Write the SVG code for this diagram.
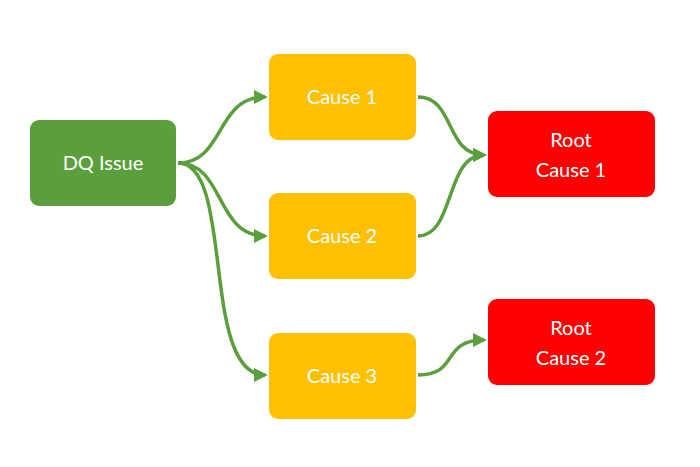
<svg xmlns="http://www.w3.org/2000/svg" width="700" height="467" viewBox="0 0 700 467">
<defs>
<marker id="ah" viewBox="0 0 10 10" refX="8" refY="5" markerWidth="4" markerHeight="4" orient="auto"><path d="M0,0 L10,5 L0,10 z" fill="#5B9F3D"/></marker>
<style>
text{font-family:Lato,"Liberation Sans",sans-serif;font-size:20px;fill:#fff;text-anchor:middle}
.c{fill:none;stroke:#5B9F3D;stroke-width:3.5;marker-end:url(#ah)}
</style>
</defs>
<rect width="700" height="467" fill="#fff"/>
<g id="connectors">
<path class="c" d="M178,163 C225,163 215,97 265,97"/>
<path class="c" d="M178,163 C225,163 215,236 265,236"/>
<path class="c" d="M178,163 C235,163 200,375 265,375"/>
<path class="c" d="M418,97 C455,97 445,155 484,155"/>
<path class="c" d="M418,236 C455,236 445,155 484,155"/>
<path class="c" d="M418,375 C460,375 440,340 484,340"/>
</g>
<g id="dq"><rect x="30" y="120" width="146" height="86" rx="9" fill="#5B9F3D"/><text x="103" y="170">DQ Issue</text></g>
<g id="cause1"><rect x="269" y="54" width="147" height="86" rx="9" fill="#FFC000"/><text x="342" y="104">Cause 1</text></g>
<g id="cause2"><rect x="269" y="193" width="147" height="86" rx="9" fill="#FFC000"/><text x="342" y="243">Cause 2</text></g>
<g id="cause3"><rect x="269" y="333" width="147" height="86" rx="9" fill="#FFC000"/><text x="342" y="383">Cause 3</text></g>
<g id="root1"><rect x="488" y="111" width="167" height="86" rx="9" fill="#FF0000"/><text x="571" y="147">Root</text><text x="571" y="177">Cause 1</text></g>
<g id="root2"><rect x="488" y="299" width="167" height="86" rx="9" fill="#FF0000"/><text x="571" y="335">Root</text><text x="571" y="365">Cause 2</text></g>
</svg>
